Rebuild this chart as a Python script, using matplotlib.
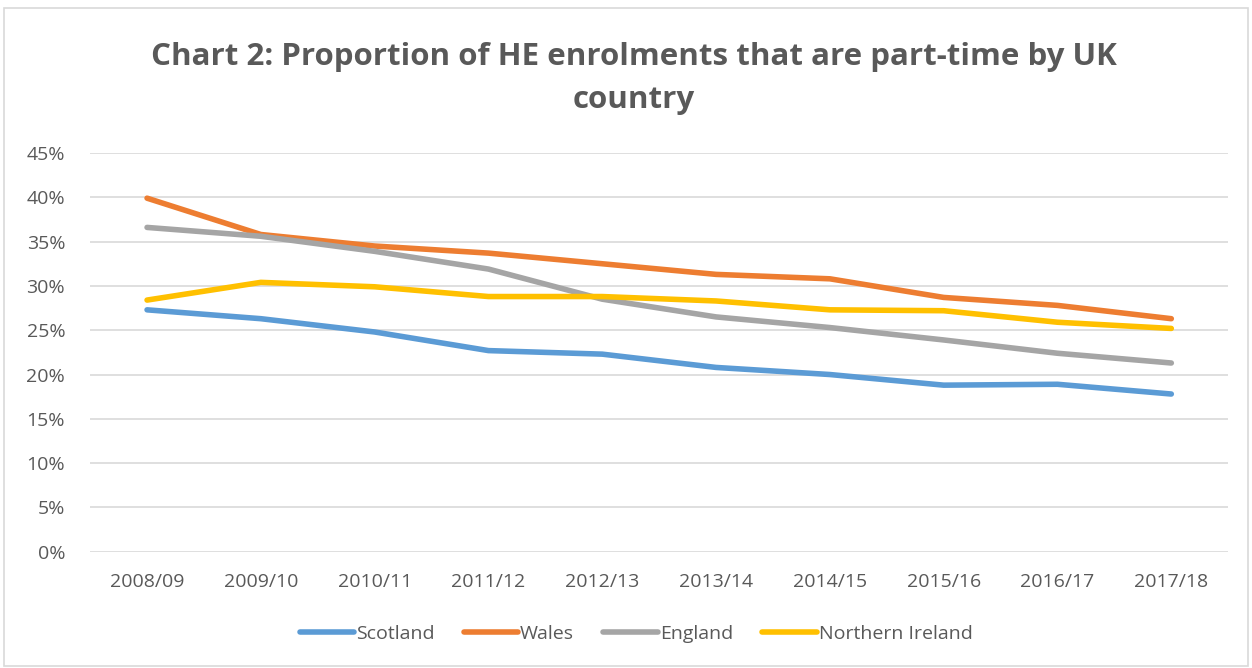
import matplotlib.pyplot as plt
from matplotlib.patches import Rectangle

plt.rcParams['font.family'] = ['Open Sans', 'DejaVu Sans']

years = ['2008/09', '2009/10', '2010/11', '2011/12', '2012/13',
         '2013/14', '2014/15', '2015/16', '2016/17', '2017/18']
scotland = [27.3, 26.3, 24.8, 22.7, 22.3, 20.8, 20.0, 18.8, 18.9, 17.8]
wales = [39.9, 35.8, 34.5, 33.7, 32.5, 31.3, 30.8, 28.7, 27.8, 26.3]
england = [36.6, 35.6, 33.9, 31.9, 28.5, 26.5, 25.3, 23.9, 22.4, 21.3]
northern_ireland = [28.4, 30.4, 29.9, 28.8, 28.8, 28.3, 27.3, 27.2, 25.9, 25.2]

series = [('Scotland', scotland, '#5B9BD5'),
          ('Wales', wales, '#ED7D31'),
          ('England', england, '#A5A5A5'),
          ('Northern Ireland', northern_ireland, '#FFC000')]

text_col = '#595959'
fs = 14

fig = plt.figure(figsize=(12.52, 6.68), dpi=100)
ax = fig.add_axes([0.072, 0.174, 0.909, 0.597])

x = range(len(years))
for name, vals, col in series:
    ax.plot(x, [v / 100 for v in vals], color=col, lw=4.0,
            solid_capstyle='round', solid_joinstyle='round', label=name)

ax.set_xlim(-0.5, len(years) - 0.5)
ax.set_ylim(0, 0.45)
ax.set_yticks([i * 0.05 for i in range(10)])
ax.set_yticklabels([f'{i * 5}%' for i in range(10)])
ax.set_xticks(list(x))
ax.set_xticklabels(years)
ax.tick_params(length=0, labelsize=fs, colors=text_col)
ax.tick_params(axis='x', pad=15)
ax.tick_params(axis='y', pad=18)
ax.grid(axis='y', color='#D9D9D9', lw=1.2)
ax.set_axisbelow(True)
for s in ax.spines.values():
    s.set_visible(False)

fig.text(0.506, 0.882, 'Chart 2: Proportion of HE enrolments that are part-time by UK\ncountry',
         ha='center', va='center', fontsize=22.5, fontweight='bold',
         color=text_col, linespacing=1.55)

# legend sits centred on the figure, below the category labels
fig.legend(*ax.get_legend_handles_labels(), loc='center',
           bbox_to_anchor=(0.508, 0.051), ncol=4, frameon=False,
           fontsize=fs, labelcolor=text_col, handlelength=2.8,
           handletextpad=0.1, columnspacing=1.5)

fig.patches.append(Rectangle((0.003, 0.003), 0.994, 0.985, transform=fig.transFigure,
                             fill=False, edgecolor='#D9D9D9', lw=1.2))

fig.savefig('out.png', dpi=100)
